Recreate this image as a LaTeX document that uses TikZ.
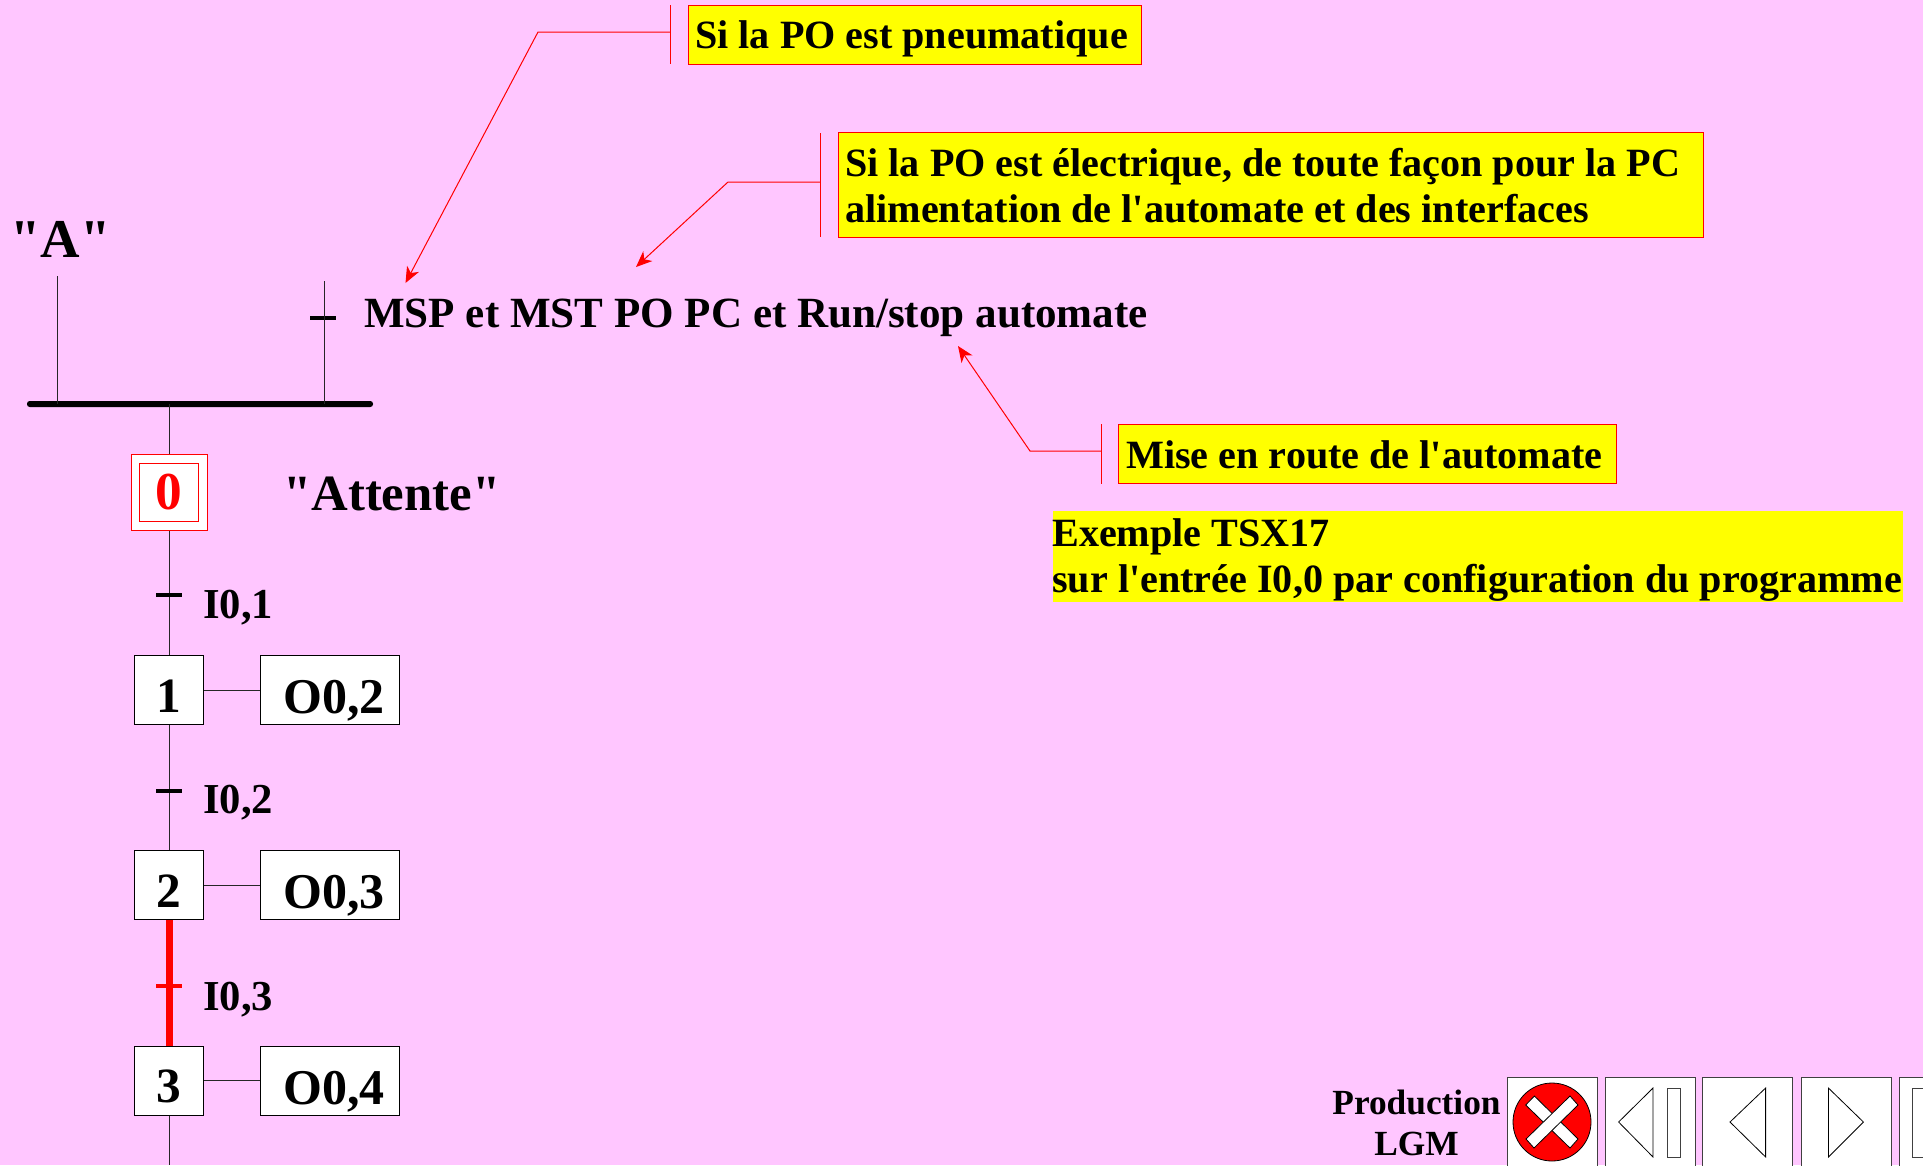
\documentclass[tikz,border=0pt]{standalone}
\usepackage{fontspec}
\setmainfont[Ligatures=TeXOff]{Liberation Serif}
\usetikzlibrary{arrows.meta}
\definecolor{fondrose}{RGB}{255,198,255}
\definecolor{jaune}{RGB}{255,255,0}
\definecolor{rouge}{RGB}{255,0,0}
\tikzset{
  stepbox/.style={draw=black,fill=white,line width=0.75pt,minimum width=51.75pt,minimum height=51.75pt,inner sep=0pt,font=\fontsize{37}{37}\bfseries\selectfont,text height=33pt,text depth=0pt},
  actionbox/.style={draw=black,fill=white,line width=0.75pt,minimum width=104.25pt,minimum height=51.75pt,inner sep=0pt,font=\fontsize{37.5}{37.5}\bfseries\selectfont,text height=35.5pt,text depth=0pt},
  tickmark/.style={fill=black,minimum width=19.5pt,minimum height=3.5pt,inner sep=0pt},
  notebox/.style={draw=rouge,fill=jaune,line width=0.75pt,anchor=north west,inner sep=0pt},
  notetext/.style={anchor=base west,inner sep=0pt,align=left,font=\fontsize{30.1}{34.5}\bfseries\selectfont},
  txt/.style={anchor=base west,inner sep=0pt,font=\fontsize{32.3}{32.3}\bfseries\selectfont},
  translabel/.style={anchor=base west,inner sep=0pt,font=\fontsize{32}{32}\bfseries\selectfont},
  link/.style={line width=0.75pt,black!85},
  callout/.style={draw=rouge,line width=0.75pt},
  navbox/.style={draw=black!75,fill=white,line width=0.75pt,anchor=north west,minimum width=67.5pt,minimum height=75pt,inner sep=0pt},
  navshape/.style={draw=black,fill=white,line width=0.6pt}
}
\begin{document}
\begin{tikzpicture}[x=0.75pt,y=-0.75pt]
      \useasboundingbox (0,0) rectangle (1923,1165);
      \clip (0,0) rectangle (1923,1165);
      \fill[fondrose] (0,0) rectangle (1923,1165);
      % notes
      \node[notebox,minimum width=340pt,minimum height=44.25pt] (notePneu) at (688,5) {};
      \node[notebox,minimum width=648.75pt,minimum height=78.75pt] (noteElec) at (837.5,132) {};
      \node[notebox,minimum width=373.5pt,minimum height=44.25pt] (noteRun) at (1118,424) {};
      \node[notebox,draw=none,minimum width=637.5pt,minimum height=68.25pt] (noteTsx) at (1052,510) {};
      \node[notetext] (textPneu) at (695,48) {Si la PO est pneumatique};
      \node[notetext] (textElec) at (845,222) {Si la PO est électrique, de toute façon pour la PC\\alimentation de l'automate et des interfaces};
      \node[notetext] (textRun) at (1126,468) {Mise en route de l'automate};
      \node[notetext] (textTsx) at (1052,592) {Exemple TSX17\\sur l'entrée I0,0 par configuration du programme};
      \coordinate (pneuTop) at (670,5);
      \coordinate (pneuBot) at (670,64);
      \coordinate (pneuMid) at (670,32);
      \coordinate (pneuElbow) at (538,32);
      \coordinate (pneuTip) at (405.5,283);
      \coordinate (elecTop) at (820,133);
      \coordinate (elecBot) at (820,237);
      \coordinate (elecMid) at (820,182);
      \coordinate (elecElbow) at (728,182);
      \coordinate (elecTip) at (636,267);
      \coordinate (runTop) at (1101,424);
      \coordinate (runBot) at (1101,484);
      \coordinate (runMid) at (1101,451);
      \coordinate (runElbow) at (1030,451);
      \coordinate (runTip) at (958,346);
      \draw[callout] (pneuTop) -- (pneuBot);
      \draw[callout] (elecTop) -- (elecBot);
      \draw[callout] (runTop) -- (runBot);
      \draw[callout,-{Stealth[length=12pt,width=10pt,inset=3.5pt]}] (pneuMid) -- (pneuElbow) -- (pneuTip);
      \draw[callout,-{Stealth[length=12pt,width=10pt,inset=3.5pt]}] (elecMid) -- (elecElbow) -- (elecTip);
      \draw[callout,-{Stealth[length=12pt,width=10pt,inset=3.5pt]}] (runMid) -- (runElbow) -- (runTip);
      % grafcet
      \node[fill=black,rounded corners=2pt,minimum width=259.5pt,minimum height=4.5pt,inner sep=0pt] (bar) at (200,404) {};
      \coordinate (entryA) at (57,276);
      \coordinate (entryB) at (324,281);
      \node[tickmark] (tickB) at (323,318) {};
      \node[draw=rouge,fill=white,line width=0.75pt,minimum width=57pt,minimum height=57pt,inner sep=0pt] (stepZeroOut) at (169,492.5) {};
      \node[draw=rouge,fill=white,line width=0.75pt,minimum width=44.5pt,minimum height=44pt,inner sep=0pt,text=rouge,font=\fontsize{40}{40}\bfseries\selectfont] (stepZero) at (169,492.5) {0};
      \node[stepbox] (stepOne) at (168.5,690) {1};
      \node[stepbox] (stepTwo) at (168.5,885) {2};
      \node[stepbox] (stepThree) at (168.5,1080.5) {3};
      \coordinate (exitThree) at (169,1165);
      \coordinate (linkOne) at (169,595);
      \coordinate (linkTwo) at (169,791);
      \coordinate (linkThree) at (169,986);
      \node[actionbox] (actOne) at (329.5,690) {\hspace{7pt}O0,2};
      \node[actionbox] (actTwo) at (329.5,885) {\hspace{7pt}O0,3};
      \node[actionbox] (actThree) at (329.5,1080.5) {\hspace{7pt}O0,4};
      \draw[link] (entryA) -- (entryA |- bar);
      \draw[link] (entryB) -- (entryB |- bar);
      \draw[link] (stepZeroOut |- bar) -- (stepZeroOut.north);
      \draw[link] (stepZeroOut.south) -- (linkOne |- stepOne.north);
      \draw[link] (linkTwo |- stepOne.south) -- (linkTwo |- stepTwo.north);
      \draw[rouge,line width=5.25pt] (linkThree |- stepTwo.south) -- (linkThree |- stepThree.north);
      \draw[link] (exitThree |- stepThree.south) -- (exitThree);
      \draw[link] (stepOne) -- (actOne);
      \draw[link] (stepTwo) -- (actTwo);
      \draw[link] (stepThree) -- (actThree);
      \node[tickmark] (tickOne) at (linkOne) {};
      \node[tickmark] (tickTwo) at (linkTwo) {};
      \node[tickmark,fill=rouge] (tickThree) at (linkThree) {};
      % labels
      \node[txt,font=\fontsize{41}{41}\bfseries\selectfont] (labA) at (10,257) {"A"};
      \node[txt] (labMsp) at (364,327) {MSP et MST PO PC et Run/stop automate};
      \node[txt,font=\fontsize{38.1}{38.1}\bfseries\selectfont] (labAttente) at (283,510) {"Attente"};
      \node[translabel] (labOne) at (203,618) {I0,1};
      \node[translabel] (labTwo) at (203,813) {I0,2};
      \node[translabel] (labThree) at (203,1010) {I0,3};
      \node[anchor=base,inner sep=0pt,font=\fontsize{26.5}{30.5}\bfseries\selectfont,align=center] (labProd) at (1416.5,1155.5) {Production\\LGM};
      % navigation
      \node[navbox] (navQuit) at (1506.5,1077) {};
      \node[navbox] (navFirst) at (1605,1077) {};
      \node[navbox] (navPrev) at (1702,1077) {};
      \node[navbox] (navNext) at (1801,1077) {};
      \node[navbox] (navLast) at (1899,1077) {};
      \draw[navshape,fill=rouge] (1552,1122) ellipse (39 and 39);
      \draw[navshape] (1525.7,1105) -- (1534.4,1096) -- (1578,1139) -- (1570,1148) -- cycle;
      \draw[navshape] (1578,1105) -- (1570,1096) -- (1526,1139) -- (1534,1148) -- cycle;
      \draw[navshape] (1618.6,1122) -- (1653,1088) -- (1653,1157) -- cycle;
      \draw[navshape,draw=black!75] (1667,1088) rectangle (1680.6,1157);
      \draw[navshape] (1730,1122) -- (1765.6,1088) -- (1765.6,1157) -- cycle;
      \draw[navshape] (1828.4,1088) -- (1863.4,1122) -- (1828.4,1157) -- cycle;
      \draw[navshape,draw=black!75] (1912.2,1088) rectangle (1930,1157);
\end{tikzpicture}
\end{document}
